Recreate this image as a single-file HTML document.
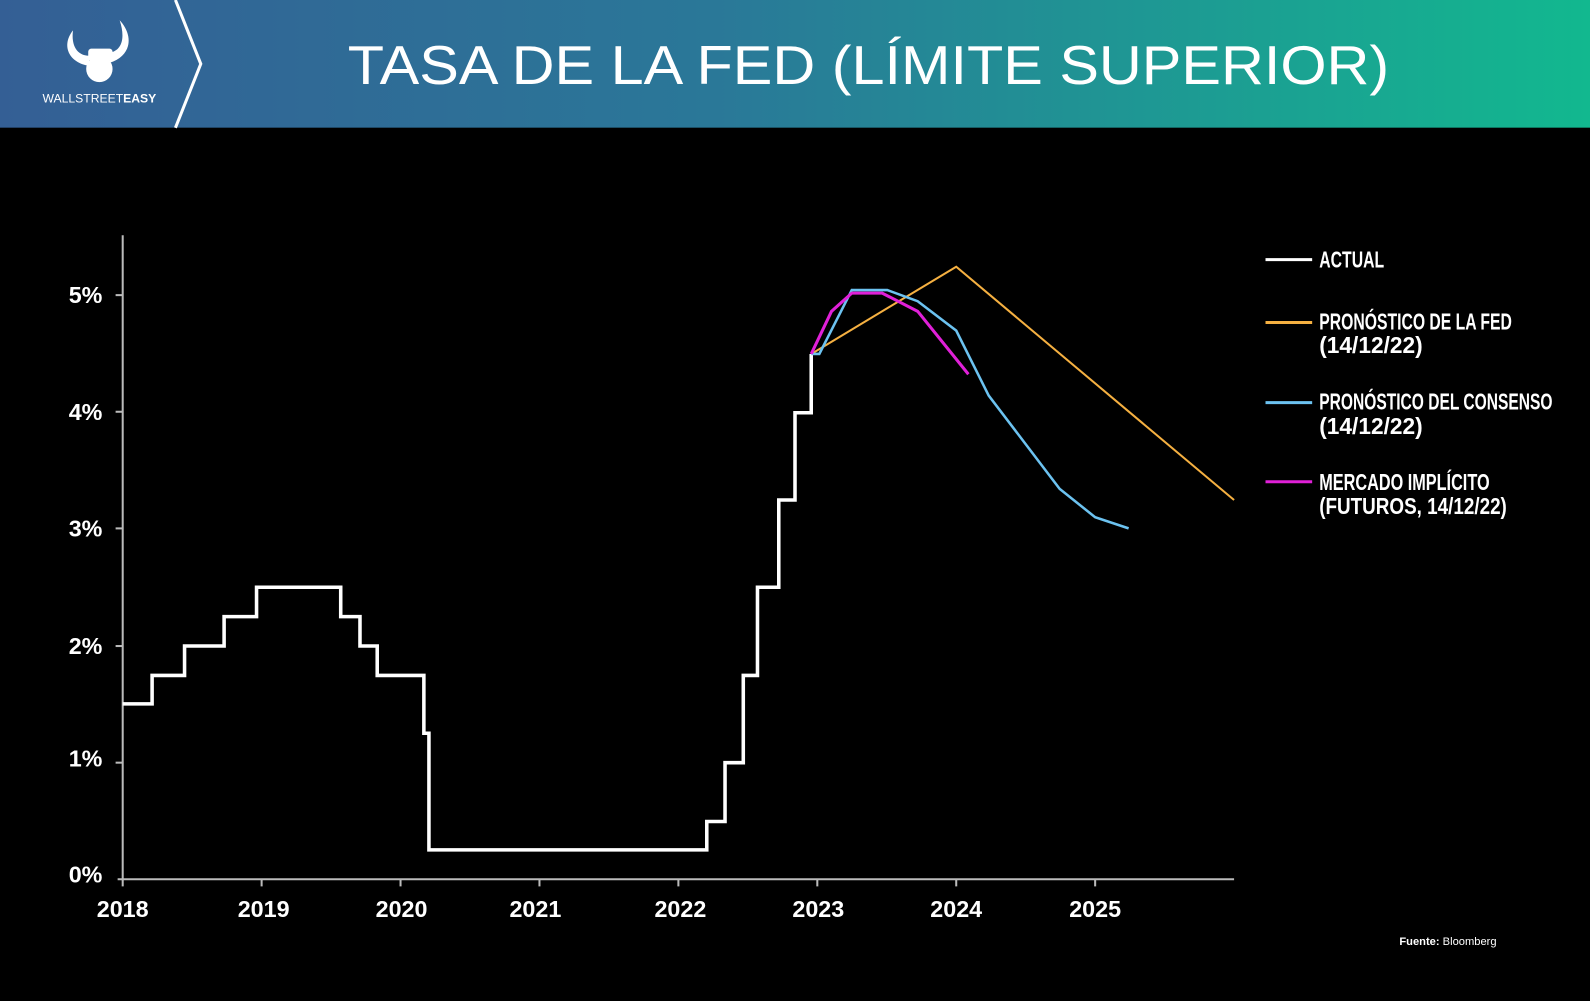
<!DOCTYPE html>
<html><head><meta charset="utf-8"><style>
html,body{margin:0;padding:0;background:#000;width:1590px;height:1001px;overflow:hidden}
svg{display:block}
</style></head><body>
<svg width="1590" height="1001" viewBox="0 0 1568 987" preserveAspectRatio="none" xmlns="http://www.w3.org/2000/svg">
<defs><linearGradient id="g" x1="0" x2="1"><stop offset="0" stop-color="#345f95"/><stop offset="0.45" stop-color="#2a7898"/><stop offset="1" stop-color="#12b88f"/></linearGradient></defs>
<rect x="0" y="0" width="1568" height="126" fill="url(#g)"/>
<rect x="0" y="126" width="1568" height="861" fill="#000"/>
<polyline points="173,0 198,63 173,126" fill="none" stroke="#fff" stroke-width="3"/>
<g fill="#fff">
<path d="M72,30 C60,45 68,62 88,65 L88,55 C76,55 70,45 72,30Z"/>
<path d="M118,20 C132,35 130,55 108,62 L108,52 C120,50 124,38 118,20Z"/>
<rect x="87" y="48" width="24" height="12" rx="3"/>
<circle cx="98" cy="68" r="13"/>
</g>
<text x="98" y="101" fill="#fff" font-family="Liberation Sans, sans-serif" font-size="12" text-anchor="middle">WALLSTREET<tspan font-weight="bold">EASY</tspan></text>
<text x="343" y="83" fill="#fff" font-family="Liberation Sans, sans-serif" font-size="54" textLength="1027" lengthAdjust="spacingAndGlyphs">TASA DE LA FED (LÍMITE SUPERIOR)</text>

<g stroke="#bbb" stroke-width="2" fill="none">
<line x1="121" y1="232" x2="121" y2="868"/>
<line x1="116" y1="867" x2="1217" y2="867"/>
</g>
<g stroke="#bbb" stroke-width="2">
<line x1="121" y1="867" x2="121" y2="874"/><line x1="258" y1="867" x2="258" y2="874"/><line x1="395" y1="867" x2="395" y2="874"/><line x1="532" y1="867" x2="532" y2="874"/><line x1="669" y1="867" x2="669" y2="874"/><line x1="806" y1="867" x2="806" y2="874"/><line x1="943" y1="867" x2="943" y2="874"/><line x1="1080" y1="867" x2="1080" y2="874"/>
<line x1="114" y1="291" x2="121" y2="291"/><line x1="114" y1="406" x2="121" y2="406"/><line x1="114" y1="521" x2="121" y2="521"/><line x1="114" y1="637" x2="121" y2="637"/><line x1="114" y1="752" x2="121" y2="752"/>
</g>
<g fill="#fff" font-family="Liberation Sans, sans-serif" font-weight="bold" font-size="23" text-anchor="end">
<text x="101" y="299">5%</text><text x="101" y="414">4%</text><text x="101" y="529">3%</text><text x="101" y="645">2%</text><text x="101" y="756">1%</text><text x="101" y="870">0%</text>
</g>
<g fill="#fff" font-family="Liberation Sans, sans-serif" font-weight="bold" font-size="23" text-anchor="middle">
<text x="121" y="904">2018</text><text x="260" y="904">2019</text><text x="396" y="904">2020</text><text x="528" y="904">2021</text><text x="671" y="904">2022</text><text x="807" y="904">2023</text><text x="943" y="904">2024</text><text x="1080" y="904">2025</text>
</g>

<polyline fill="none" stroke="#fff" stroke-width="3.5" stroke-linejoin="miter" points="121,694 150,694 150,666 182,666 182,637 221,637 221,608 253,608 253,579 336,579 336,608 355,608 355,637 372,637 372,666 418,666 418,723 423,723 423,838 697,838 697,810 715,810 715,752 733,752 733,666 747,666 747,579 768,579 768,493 784,493 784,407 800,407 800,349"/>
<polyline fill="none" stroke="#f5b041" stroke-width="2" points="800,349 943,263 1217,493"/>
<polyline fill="none" stroke="#6cc2f0" stroke-width="2.5" points="800,349 808,349 840,286 875,286 905,297 943,326 975,390 1045,482 1080,510 1113,521"/>
<polyline fill="none" stroke="#e020d8" stroke-width="3" points="800,349 820,307 840,289 870,289 905,307 955,369"/>

<g stroke-width="3"><line x1="1248" y1="256" x2="1294" y2="256" stroke="#fff"/><line x1="1248" y1="318" x2="1294" y2="318" stroke="#f5b041"/><line x1="1248" y1="397" x2="1294" y2="397" stroke="#6cc2f0"/><line x1="1248" y1="475" x2="1294" y2="475" stroke="#e020d8"/></g>
<g fill="#fff" font-family="Liberation Sans Narrow, Liberation Sans, sans-serif" font-weight="bold" font-size="23">
<text x="1301" y="264" textLength="64" lengthAdjust="spacingAndGlyphs">ACTUAL</text>
<text x="1301" y="325" textLength="190" lengthAdjust="spacingAndGlyphs">PRONÓSTICO DE LA FED</text>
<text x="1301" y="348" textLength="102" lengthAdjust="spacingAndGlyphs">(14/12/22)</text>
<text x="1301" y="404" textLength="230" lengthAdjust="spacingAndGlyphs">PRONÓSTICO DEL CONSENSO</text>
<text x="1301" y="428" textLength="102" lengthAdjust="spacingAndGlyphs">(14/12/22)</text>
<text x="1301" y="483" textLength="168" lengthAdjust="spacingAndGlyphs">MERCADO IMPLÍCITO</text>
<text x="1301" y="507" textLength="185" lengthAdjust="spacingAndGlyphs">(FUTUROS, 14/12/22)</text>
</g>
<text x="1380" y="932" fill="#fff" font-family="Liberation Sans, sans-serif" font-size="11"><tspan font-weight="bold">Fuente:</tspan> Bloomberg</text>
</svg>
</body></html>
